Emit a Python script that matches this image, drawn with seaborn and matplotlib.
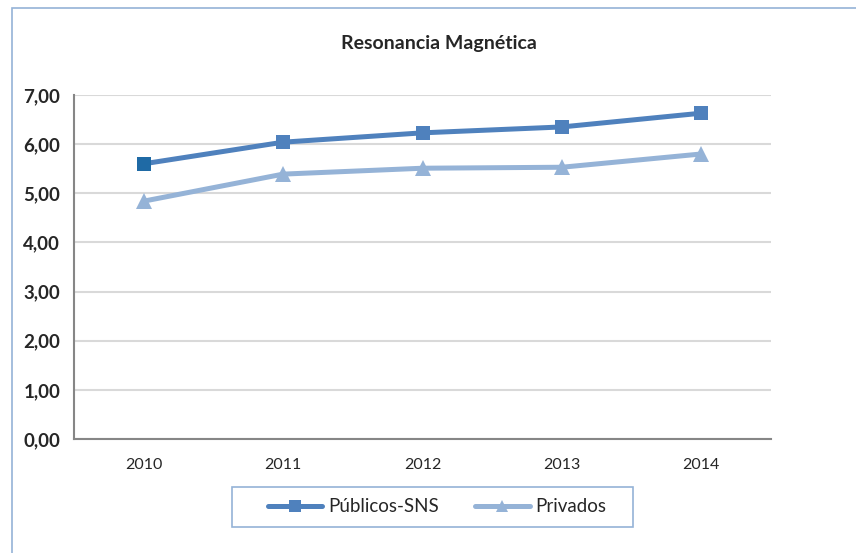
import pandas as pd
import matplotlib.pyplot as plt
import matplotlib.patches as mpatches
import seaborn as sns

# Data
years = ["2010", "2011", "2012", "2013", "2014"]
publicos = [5.60, 6.04, 6.23, 6.35, 6.63]
privados = [4.84, 5.39, 5.51, 5.53, 5.80]

df = pd.DataFrame({"year": years, "Públicos-SNS": publicos, "Privados": privados})
df["pos"] = range(len(years))

sns.set_style("white")
plt.rcParams["font.family"] = ["Lato", "DejaVu Sans"]

fig = plt.figure(figsize=(8.56, 5.53), dpi=100)
ax = fig.add_axes([74 / 856, 1 - 439 / 553, 697 / 856, 344 / 553])

# outer chart frame (cut off on the right and bottom)
fig.patches.append(mpatches.Rectangle((12 / 856, -0.1), 1.2, 1 - 8 / 553 + 0.1,
                                      transform=fig.transFigure, fill=False,
                                      edgecolor="#95B3D7", linewidth=1.2))
# legend box
fig.patches.append(mpatches.Rectangle((232 / 856, 1 - 527 / 553), 401 / 856, 40 / 553,
                                      transform=fig.transFigure, fill=False,
                                      edgecolor="#95B3D7", linewidth=1.2))

sns.lineplot(data=df, x="pos", y="Públicos-SNS", ax=ax, color="#4F81BD", linewidth=3.6,
             marker="s", markersize=10.5, markeredgewidth=0, label="Públicos-SNS")
sns.lineplot(data=df, x="pos", y="Privados", ax=ax, color="#95B3D7", linewidth=3.6,
             marker="^", markersize=12, markeredgewidth=0, label="Privados")
# first point of the public series is drawn darker in the original
sns.scatterplot(x=df["pos"][:1], y=df["Públicos-SNS"][:1], ax=ax, color="#1F6AA5",
                marker="s", s=110, linewidth=0, zorder=5, legend=False)

ax.set_xlim(-0.5, 4.5)
ax.set_ylim(0, 7)
ax.set_yticks(range(8))
ax.set_yticklabels([f"{v},00" for v in range(8)], fontweight="bold", fontsize=13.5)
ax.set_xticks(df["pos"])
ax.set_xticklabels(years, fontsize=11.5)
ax.set_xticks([i - 0.5 for i in range(6)], minor=True)
ax.tick_params(axis="x", which="major", length=0, pad=14)
ax.tick_params(axis="x", which="minor", length=6, color="#868686", direction="out")
ax.tick_params(axis="y", length=7, color="#868686", direction="out", pad=3)
ax.set_xlabel("")
ax.set_ylabel("")

ax.yaxis.grid(True, color="#D9D9D9", linewidth=1.5)
ax.set_axisbelow(True)
for side in ["top", "right"]:
    ax.spines[side].set_visible(False)
for side in ["left", "bottom"]:
    ax.spines[side].set_color("#868686")
    ax.spines[side].set_linewidth(1.5)

fig.text(439 / 856, 1 - 43 / 553, "Resonancia Magnética", ha="center", va="center",
         fontweight="bold", fontsize=14)

leg = ax.legend(loc="center", bbox_to_anchor=(437 / 856, 1 - 507 / 553),
                bbox_transform=fig.transFigure, ncol=2, fontsize=13.5,
                frameon=False, handlelength=2.9, columnspacing=1.95,
                borderpad=0, handletextpad=0.3, borderaxespad=0)
for h in leg.legend_handles:
    h.set_markersize(9)

fig.savefig("out.png", dpi=100)
